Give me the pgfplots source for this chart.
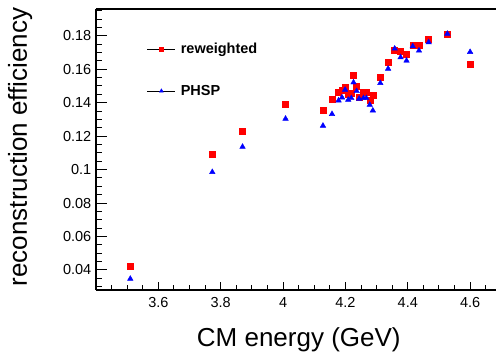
\documentclass[border=0pt]{standalone}
\usepackage{fontspec}
\setmainfont{Liberation Sans}
\usepackage{pgfplots}
\pgfplotsset{compat=1.18}
\begin{document}
\begin{tikzpicture}[x=1pt,y=1pt]
\useasboundingbox (0,0) rectangle (496,356);
\begin{axis}[
  at={(96pt,66pt)}, anchor=south west,
  scale only axis, width=400pt, height=281pt,
  xmin=3.4, xmax=4.683, ymin=0.028, ymax=0.196,
  axis x line=box, axis y line=left,
  x axis line style={-, line width=1.3pt},
  y axis line style={-, line width=1.3pt},
  xtick pos=left, ytick pos=left,
  tick align=inside,
  xtick={3.6,3.8,4.0,4.2,4.4,4.6},
  ytick={0.04,0.06,0.08,0.1,0.12,0.14,0.16,0.18},
  minor xtick={3.45,3.5,3.55,3.65,3.7,3.75,3.85,3.9,3.95,4.05,4.1,4.15,4.25,4.3,4.35,4.45,4.5,4.55,4.65},
  minor ytick={0.03,0.035,0.045,0.05,0.055,0.065,0.07,0.075,0.085,0.09,0.095,0.105,0.11,0.115,0.125,0.13,0.135,0.145,0.15,0.155,0.165,0.17,0.175,0.185,0.19,0.195},
  xtick style={black, line width=0.9pt, /pgfplots/major tick length=8.3pt, /pgfplots/minor tick length=4.5pt},
  ytick style={black, line width=0.9pt, /pgfplots/major tick length=11.5pt, /pgfplots/minor tick length=6pt},
  scaled y ticks=false, scaled x ticks=false,
  /pgf/number format/assume math mode=true,
  yticklabel style={/pgf/number format/fixed, /pgf/number format/precision=2},
  ticklabel style={font=\fontsize{14.5}{17}\selectfont},
  xticklabel shift=4pt, yticklabel shift=1.2pt,
  xlabel={CM energy (GeV)},
  ylabel={reconstruction efficiency},
  xlabel style={font=\fontsize{26}{30}\selectfont, at={(axis description cs:0.507,-0.201)}, anchor=base},
  ylabel style={font=\fontsize{26}{30}\selectfont, at={(axis description cs:-0.1725,0.509)}, anchor=base},
  legend style={draw=none, fill=none, at={(axis description cs:0.127,0.783)}, anchor=west,
    font=\bfseries\fontsize{14.5}{17}\selectfont, row sep=26pt, inner sep=0pt,
    column sep=3pt},
  legend cell align=left,
  legend image code/.code={
    \draw[black, line width=0.8pt, solid] (0pt,0pt) -- (28pt,0pt);
    \draw[mark size=2.2pt] plot coordinates {(14pt,0pt)};
  },
]
\addplot[only marks, mark=square*, mark size=3pt, color=red] coordinates {
(3.510,0.0424) (3.773,0.1094) (3.870,0.1230) (4.008,0.1392)
(4.128,0.1357) (4.157,0.1423) (4.178,0.1463) (4.189,0.1477)
(4.199,0.1493) (4.209,0.1449) (4.219,0.1455) (4.226,0.1563)
(4.236,0.1501) (4.244,0.1431) (4.258,0.1461) (4.267,0.1465)
(4.278,0.1417) (4.288,0.1447) (4.312,0.1555) (4.337,0.1641)
(4.358,0.1711) (4.377,0.1707) (4.396,0.1689) (4.416,0.1745)
(4.436,0.1741) (4.467,0.1781) (4.527,0.1812) (4.600,0.1631)
};
\addlegendentry{reweighted}
\addplot[only marks, mark=triangle*, mark size=3.2pt, color=blue] coordinates {
(3.510,0.0347) (3.773,0.0985) (3.870,0.1136) (4.008,0.1304)
(4.128,0.1262) (4.157,0.1332) (4.178,0.1413) (4.189,0.1431)
(4.199,0.1477) (4.209,0.1417) (4.219,0.1427) (4.226,0.1521)
(4.236,0.1469) (4.244,0.1423) (4.258,0.1427) (4.267,0.1427)
(4.278,0.1387) (4.288,0.1353) (4.312,0.1517) (4.337,0.1603)
(4.358,0.1723) (4.377,0.1671) (4.396,0.1651) (4.416,0.1737)
(4.436,0.1711) (4.467,0.1761) (4.527,0.1812) (4.600,0.1703)
};
\addlegendentry{PHSP}
\end{axis}
\end{tikzpicture}
\end{document}
